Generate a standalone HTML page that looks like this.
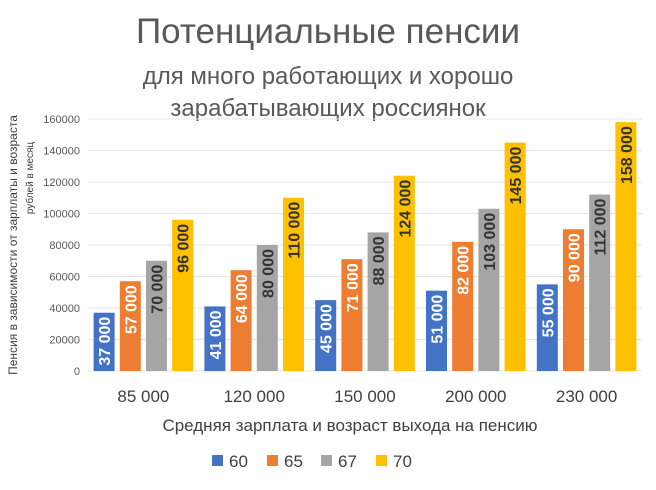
<!DOCTYPE html>
<html><head><meta charset="utf-8"><style>
body{margin:0;background:#fff;font-family:"Liberation Sans","DejaVu Sans",sans-serif;}
svg text{font-family:"Liberation Sans","DejaVu Sans",sans-serif;}
</style></head><body>
<svg width="656" height="485" xmlns="http://www.w3.org/2000/svg">
<text x="328" y="43" text-anchor="middle" font-size="35" fill="#595959">Потенциальные пенсии</text>
<text x="328" y="84" text-anchor="middle" font-size="24" fill="#595959">для много работающих и хорошо</text>
<text x="328" y="116" text-anchor="middle" font-size="24" fill="#595959">зарабатывающих россиянок</text>
<text transform="translate(17,245) rotate(-90)" text-anchor="middle" font-size="12" fill="#404040">Пенсия в зависимости от зарплаты и возраста</text>
<text transform="translate(33,178) rotate(-90)" text-anchor="middle" font-size="10" fill="#404040">рублей в месяц</text>
<g id="grid"></g><g id="bars"></g><g id="xl"></g>
<text x="350" y="431" text-anchor="middle" font-size="17" fill="#404040">Средняя зарплата и возраст выхода на пенсию</text>
<g id="legend"></g>
</svg>
<script>
const categories=["85 000","120 000","150 000","200 000","230 000"];
const seriesNames=["60","65","67","70"];
const s60=[37000,41000,45000,51000,55000];
const s65=[57000,64000,71000,82000,90000];
const s67=[70000,80000,88000,103000,112000];
const s70=[96000,110000,124000,145000,158000];
const yTicks=[0,20000,40000,60000,80000,100000,120000,140000,160000];
const series=[s60,s65,s67,s70];
const colors=["#4472c4","#ed7d31","#a5a5a5","#ffc000"];
const textColors=["#fff","#fff","#333","#333"];
const NS="http://www.w3.org/2000/svg";
const y0=371,y1=119,yMax=160000,xL=88,xR=642;
const y=v=>y0-(v/yMax)*(y0-y1);
const gw=(xR-xL)/categories.length;
const bw=21,gap=5.2;
const x=(i,j)=>xL+gw*(i+0.5)-(4*bw+3*gap)/2+j*(bw+gap);
function mk(t,a,p,txt){const e=document.createElementNS(NS,t);for(const k in a)e.setAttribute(k,a[k]);if(txt!==undefined)e.textContent=txt;p.appendChild(e);return e;}
const grid=document.getElementById('grid');
yTicks.forEach(v=>{
 const l=mk('line',{x1:xL,x2:xR,y1:y(v),y2:y(v),stroke:'#e4e4e4','stroke-width':1},grid);
 
 
 const t=mk('text',{x:80,y:y(v)+4,'text-anchor':'end','font-size':11,fill:'#595959'},grid,String(v));
 
 
});
const bars=document.getElementById('bars');
categories.forEach((c,i)=>{
 series.forEach((s,j)=>{
  const bx=x(i,j),by=y(s[i]);
  const r=mk('rect',{x:bx,y:by,width:bw,height:y0-by,fill:colors[j]},bars);
  
  
  const lbl=s[i].toLocaleString('ru-RU').replace(/\s/g,' ');
  const t=mk('text',{transform:`translate(${bx+bw/2+6},${by+4}) rotate(-90)`,'text-anchor':'end','font-size':16,'font-weight':'bold',fill:textColors[j]},bars,lbl);
  
  
 });
 const t=mk('text',{x:xL+gw*(i+0.5),y:402,'text-anchor':'middle','font-size':17,fill:'#404040'},document.getElementById('xl'),c);
 
 
});
const lg=document.getElementById('legend');
const lx=[212,267,321,376];
seriesNames.forEach((n,j)=>{
 const g=mk('g',{},lg);
 
 
 mk('rect',{x:lx[j],y:455,width:11,height:11,fill:colors[j]},g);
 mk('text',{x:lx[j]+17,y:467,'font-size':17,fill:'#404040'},g,n);
});
</script>
</body></html>
